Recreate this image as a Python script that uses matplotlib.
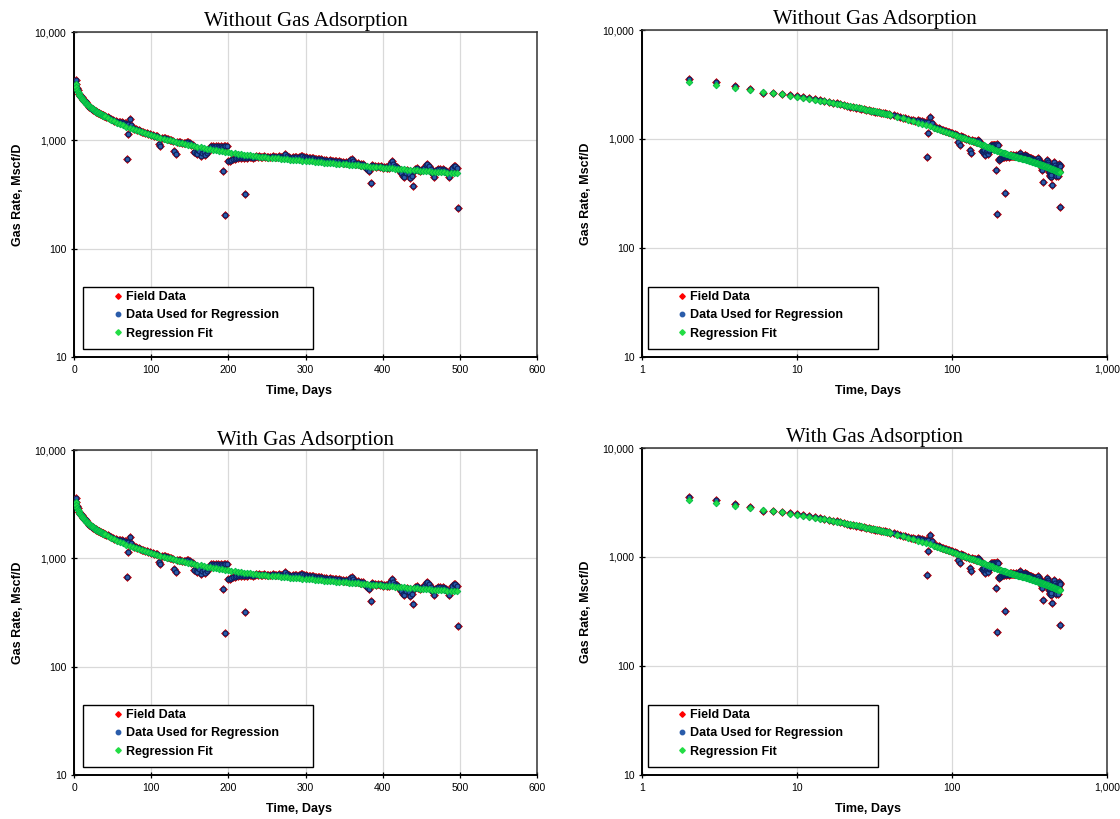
import numpy as np
import matplotlib
matplotlib.use("Agg")
import matplotlib.pyplot as plt
from matplotlib.lines import Line2D
from matplotlib.patches import Rectangle
from matplotlib.ticker import FuncFormatter, NullLocator

# ---------------- data ----------------
# daily field data, days 2..40
early_days = list(range(2, 41))
early_rates = [3570, 3300, 3050, 2890, 2650, 2650, 2590, 2530, 2500, 2440,
               2380, 2330, 2285, 2240, 2200, 2160, 2120, 2080, 2045, 2015,
               1985, 1960, 1935, 1912, 1890, 1870, 1850, 1832, 1815, 1800,
               1785, 1770, 1755, 1742, 1730, 1716, 1703, 1690, 1676]

# field data every second day, days 42..496
late_days = list(range(42, 497, 2))
late_rates = [1650, 1625, 1600, 1572, 1545, 1522, 1500, 1482, 1470, 1485,
              1470, 1455, 1440, 1430, 1420, 1590, 1400, 1300, 1280, 1262,
              1250, 1235, 1222, 1205, 1190, 1178, 1165, 1150, 1142, 1130,
              1118, 1105, 1098, 1085, 930, 890, 1060, 1050, 1040, 1030,
              1022, 1010, 1000, 985, 790, 745, 975, 965, 955, 950,
              948, 940, 960, 970, 950, 910, 900, 780, 765, 740,
              790, 720, 760, 775, 730, 770, 800, 850, 880, 885,
              870, 890, 878, 875, 880, 870, 885, 895, 880, 650,
              640, 660, 672, 668, 690, 680, 700, 690, 705, 692,
              700, 686, 695, 698, 705, 690, 700, 712, 700, 710,
              704, 700, 715, 698, 703, 695, 702, 698, 710, 705,
              695, 700, 712, 698, 702, 715, 742, 718, 700, 692,
              688, 698, 705, 695, 690, 702, 710, 716, 705, 698,
              690, 693, 685, 680, 688, 676, 670, 666, 672, 668,
              660, 664, 655, 650, 648, 655, 645, 640, 648, 642,
              632, 640, 636, 625, 620, 628, 615, 630, 660, 675,
              640, 612, 605, 620, 598, 610, 600, 585, 560, 540,
              520, 565, 590, 578, 585, 572, 580, 565, 575, 560,
              568, 572, 555, 560, 600, 640, 610, 585, 570, 545,
              520, 500, 470, 455, 500, 530, 490, 450, 470, 520,
              545, 560, 535, 520, 530, 545, 560, 590, 610, 575,
              540, 500, 460, 520, 535, 548, 545, 525, 540, 535,
              520, 500, 460, 510, 555, 585, 575, 560]

# isolated outliers
outlier_days = [69, 70, 193, 196, 221, 385, 439, 497]
outlier_rates = [678, 1136, 516, 203, 317, 407, 376, 237]

# regression fit
fit_days_early = list(range(2, 41))
fit_rates_early = [3330, 3110, 2940, 2820, 2720, 2635, 2562, 2497, 2440, 2388,
                   2340, 2296, 2255, 2216, 2180, 2146, 2114, 2083, 2054, 2026,
                   2000, 1975, 1951, 1928, 1906, 1885, 1864, 1844, 1825, 1806,
                   1788, 1771, 1754, 1738, 1722, 1707, 1692, 1678, 1664]
fit_days_late = list(range(44, 497, 4))
fit_rates_late = [1605, 1550, 1500, 1455, 1413, 1374, 1338, 1304, 1272, 1242,
                  1213, 1186, 1161, 1137, 1114, 1092, 1071, 1051, 1032, 1014,
                  997, 981, 966, 951, 937, 923, 910, 897, 885, 873,
                  861, 850, 839, 829, 819, 809, 800, 791, 782, 774,
                  766, 758, 751, 744, 737, 731, 725, 719, 713, 708,
                  703, 698, 693, 688, 684, 680, 676, 672, 668, 664,
                  660, 657, 653, 650, 646, 642, 639, 635, 631, 628,
                  624, 620, 617, 613, 610, 606, 603, 599, 596, 592,
                  589, 586, 582, 579, 576, 573, 570, 567, 564, 561,
                  558, 555, 552, 549, 546, 543, 540, 537, 534, 532,
                  529, 526, 523, 521, 518, 515, 513, 510, 507, 505,
                  502, 500, 497, 495]

titles = ["Without Gas Adsorption", "Without Gas Adsorption",
          "With Gas Adsorption", "With Gas Adsorption"]
legend_labels = ["Field Data", "Data Used for Regression", "Regression Fit"]
y_ticks = [10, 100, 1000, 10000]
x_ticks_lin = [0, 100, 200, 300, 400, 500, 600]
x_ticks_log = [1, 10, 100, 1000]

# ---------------- assemble ----------------
data_days = np.array(early_days + late_days + outlier_days, dtype=float)
data_rates = np.array(early_rates + late_rates + outlier_rates, dtype=float)
fit_days = np.array(fit_days_early + fit_days_late, dtype=float)
fit_rates = np.array(fit_rates_early + fit_rates_late, dtype=float)

W, H = 1120, 819
fig = plt.figure(figsize=(W / 100, H / 100), dpi=100)
fig.patch.set_facecolor("white")

SANS = "Liberation Sans"
SERIF = "Liberation Serif"

RED = "#ff0000"
BLUE = "#2a5caa"
BLUE_EDGE = "#0b1f5e"
GREEN = "#22dd44"
GREEN_EDGE = "#00b84a"

panels = [
    dict(box=(74, 32, 537, 357), logx=False, tpad=4, box_dx=9, hand_dx=40),
    dict(box=(642, 30, 1107, 357), logx=True, tpad=4, box_dx=6, hand_dx=36),
    dict(box=(74, 450, 537, 775), logx=False, tpad=2, box_dx=9, hand_dx=40),
    dict(box=(642, 448, 1107, 775), logx=True, tpad=4, box_dx=6, hand_dx=36),
]

comma = FuncFormatter(lambda v, p: f"{v:,.0f}")

for i, pnl in enumerate(panels):
    l, t, r, b = pnl["box"]
    aw, ah = r - l, b - t
    ax = fig.add_axes([l / W, 1 - b / H, aw / W, ah / H])
    ax.set_yscale("log")
    ax.set_ylim(10, 10000)
    ax.set_yticks(y_ticks)
    ax.yaxis.set_major_formatter(comma)
    ax.yaxis.set_minor_locator(NullLocator())
    if pnl["logx"]:
        ax.set_xscale("log")
        ax.set_xlim(1, 1000)
        ax.set_xticks(x_ticks_log)
        ax.xaxis.set_minor_locator(NullLocator())
    else:
        ax.set_xlim(0, 600)
        ax.set_xticks(x_ticks_lin)
    ax.xaxis.set_major_formatter(comma)

    ax.grid(True, which="major", color="#d9d9d9", lw=0.9)
    ax.set_axisbelow(True)
    for s in ["left", "bottom"]:
        ax.spines[s].set_color("black")
        ax.spines[s].set_linewidth(1.4)
    for s in ["top", "right"]:
        ax.spines[s].set_color("#333333")
        ax.spines[s].set_linewidth(1.1)
    ax.tick_params(axis="both", direction="inout", length=5, width=0.9,
                   labelsize=7.5, colors="black", pad=3)
    for lab in ax.get_xticklabels() + ax.get_yticklabels():
        lab.set_fontfamily(SANS)

    ax.plot(data_days, data_rates, ls="none", marker="D", ms=3.8,
            mfc=RED, mec="#d00000", mew=0.4, zorder=3)
    ax.plot(data_days, data_rates, ls="none", marker="o", ms=3.5,
            mfc=BLUE, mec=BLUE_EDGE, mew=0.8, zorder=3.1)
    ax.plot(fit_days, fit_rates, ls="none", marker="D", ms=3.4,
            mfc=GREEN, mec=GREEN_EDGE, mew=0.6, zorder=3.2)

    ax.set_title(titles[i], fontfamily=SERIF, fontsize=15, pad=pnl["tpad"])
    ax.set_ylabel("Gas Rate, Mscf/D", fontfamily=SANS, fontweight="bold",
                  fontsize=9)
    ax.yaxis.set_label_coords(-56 / aw, 0.5)
    ax.set_xlabel("Time, Days", fontfamily=SANS, fontweight="bold", fontsize=9)
    ax.xaxis.set_label_coords(0.485, -34 / ah)
    ax.xaxis.label.set_va("center")
    ax.yaxis.label.set_va("center")

    # legend frame
    rect = Rectangle((pnl["box_dx"] / aw, 7.7 / ah), 230 / aw, 62 / ah,
                     transform=ax.transAxes, facecolor="white",
                     edgecolor="black", lw=1.0, zorder=4)
    ax.add_patch(rect)
    handles = [
        Line2D([], [], ls="none", marker="D", ms=2.8, mfc=RED, mec=RED),
        Line2D([], [], ls="none", marker="o", ms=3.2, mfc=BLUE, mec=BLUE),
        Line2D([], [], ls="none", marker="D", ms=2.8, mfc=GREEN, mec=GREEN),
    ]
    leg = ax.legend(handles, legend_labels, loc="upper left",
                    bbox_to_anchor=(pnl["hand_dx"] / aw, 66 / ah),
                    bbox_transform=ax.transAxes, frameon=False,
                    borderpad=0, borderaxespad=0, handlelength=0.6,
                    handletextpad=0.4, labelspacing=0.5,
                    prop=dict(family=SANS, weight="bold", size=9))
    leg.set_zorder(5)

fig.savefig("out.png", dpi=100, facecolor="white")
